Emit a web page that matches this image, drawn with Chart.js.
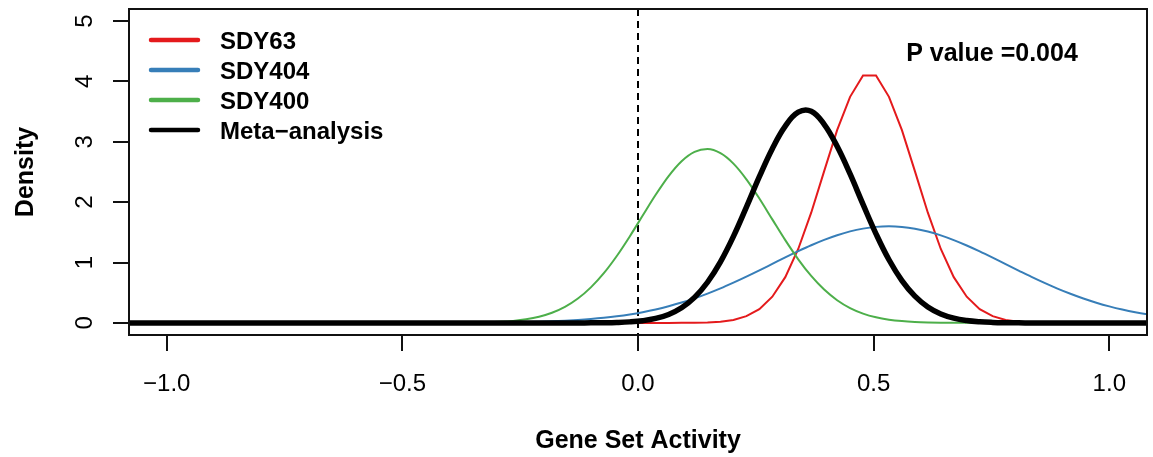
<!DOCTYPE html>
<html>
<head>
<meta charset="utf-8">
<title>Gene Set Activity density</title>
<script src="https://cdn.jsdelivr.net/npm/chart.js@4/dist/chart.umd.min.js"></script>
<style>
  html, body { margin: 0; padding: 0; background: #fff; }
  #wrap { width: 1153px; height: 457px; }
</style>
</head>
<body>
<div id="wrap"><canvas id="density-graph" width="1153" height="457"></canvas></div>
<script>
"use strict";
// values
const gridX = [-1.2, -0.5125, -0.485, -0.4575, -0.43, -0.4025, -0.375, -0.3475, -0.32, -0.2925, -0.265,
    -0.2375, -0.21, -0.1825, -0.155, -0.1275, -0.1, -0.0725, -0.045, -0.0175, 0.01, 0.0375, 0.065, 0.0925,
    0.12, 0.1475, 0.175, 0.2025, 0.23, 0.2575, 0.285, 0.3125, 0.34, 0.3675, 0.395, 0.4225, 0.45, 0.4775,
    0.505, 0.5325, 0.56, 0.5875, 0.615, 0.6425, 0.67, 0.6975, 0.725, 0.7525, 0.78, 0.8075, 0.835, 0.8625,
    0.89, 0.9175, 0.945, 0.9725, 1.0, 1.0275, 1.055, 1.0825, 1.11, 1.1375, 1.165, 1.1925, 1.22];
const sdy63 = [0, 0, 0, 0, 0, 0, 0, 0, 0, 0, 0, 0, 0, 0, 0, 0, 0, 0, 0, 0, 0, 0, 0,
    0.001, 0.003, 0.008, 0.021, 0.050, 0.112, 0.229, 0.434, 0.758, 1.225, 1.826, 2.514, 3.194, 3.745,
    4.10, 4.10, 3.745, 3.194, 2.514, 1.826, 1.225, 0.758, 0.434, 0.229, 0.112, 0.050, 0.021, 0.008,
    0.003, 0.001, 0, 0, 0, 0, 0, 0, 0, 0, 0, 0, 0, 0];
const sdy404 = [0, 0.0002, 0.0004, 0.0006, 0.0009, 0.0014, 0.0021, 0.0031, 0.0046, 0.0067, 0.0095, 0.0135,
    0.0189, 0.0261, 0.0356, 0.048, 0.0639, 0.084, 0.109, 0.140, 0.178, 0.223, 0.276, 0.337, 0.407, 0.486,
    0.572, 0.667, 0.767, 0.871, 0.978, 1.085, 1.188, 1.286, 1.375, 1.452, 1.516, 1.562, 1.591, 1.600,
    1.590, 1.561, 1.513, 1.450, 1.372, 1.283, 1.185, 1.081, 0.974, 0.868, 0.763, 0.663, 0.569, 0.483,
    0.404, 0.335, 0.274, 0.221, 0.176, 0.139, 0.108, 0.083, 0.063, 0.047, 0.035];
const sdy400 = [0, 0, 0.0001, 0.0002, 0.0005, 0.001, 0.0023, 0.0047, 0.0095, 0.0183, 0.0338, 0.0601,
    0.1028, 0.1688, 0.2665, 0.4042, 0.589, 0.824, 1.109, 1.433, 1.779, 2.122, 2.432, 2.678, 2.833, 2.880,
    2.812, 2.639, 2.379, 2.061, 1.715, 1.371, 1.054, 0.778, 0.552, 0.376, 0.246, 0.155, 0.0935, 0.0543,
    0.0303, 0.0162, 0.0084, 0.0041, 0.002, 0.0009, 0.0004, 0.0002, 0, 0, 0, 0, 0, 0, 0, 0, 0, 0, 0, 0,
    0, 0, 0, 0, 0];
const metaAnalysis = [0, 0, 0, 0, 0, 0, 0, 0, 0, 0, 0, 0, 0, 0, 0, 0,
    0.0013, 0.0033, 0.0078, 0.0175, 0.0372, 0.0745, 0.1408, 0.2512, 0.4236, 0.6738, 1.011, 1.433, 1.918,
    2.422, 2.887, 3.260, 3.490, 3.505, 3.290, 2.925, 2.467, 1.963, 1.476, 1.046, 0.7005, 0.443, 0.2642,
    0.1488, 0.0791, 0.0397, 0.0188, 0.0084, 0.0036, 0.0014, 0, 0, 0, 0, 0, 0, 0, 0, 0, 0, 0, 0, 0, 0, 0];
const seriesNames = ['SDY63', 'SDY404', 'SDY400', 'Meta\u2212analysis'];
const seriesColors = ['#E41A1C', '#377EB8', '#4DAF4A', '#000000'];
const xTicks = [-1, -0.5, 0, 0.5, 1];
const xTickLabels = ['\u22121.0', '\u22120.5', '0.0', '0.5', '1.0'];
const yTicks = [0, 1, 2, 3, 4, 5];
const yTickLabels = ['0', '1', '2', '3', '4', '5'];
const pValueText = 'P value =0.004';

const FONT = "'Liberation Sans', Arial, Helvetica, sans-serif";

function toPoints(ys) {
    return gridX.map((x, i) => ({ x: x, y: ys[i] }));
}

// R style box, axes, labels and legend
const rDecor = {
    id: 'rDecor',
    beforeDatasetsDraw(chart) {
        const ctx = chart.ctx;
        const area = chart.chartArea;
        const x0 = chart.scales.x.getPixelForValue(0);
        ctx.save();
        ctx.strokeStyle = '#000';
        ctx.lineWidth = 2;
        ctx.setLineDash([7, 5]);
        ctx.beginPath();
        ctx.moveTo(x0, area.top);
        ctx.lineTo(x0, area.bottom);
        ctx.stroke();
        ctx.restore();
    },
    afterDraw(chart) {
        const ctx = chart.ctx;
        const area = chart.chartArea;
        const xs = chart.scales.x;
        const ys = chart.scales.y;
        ctx.save();
        ctx.strokeStyle = '#111';
        ctx.fillStyle = '#000';
        ctx.lineWidth = 2;
        ctx.strokeRect(area.left, area.top, area.right - area.left, area.bottom - area.top);

        // x axis
        ctx.font = '24px ' + FONT;
        ctx.textAlign = 'center';
        ctx.textBaseline = 'alphabetic';
        ctx.beginPath();
        xTicks.forEach((v) => {
            const px = Math.round(xs.getPixelForValue(v));
            ctx.moveTo(px, area.bottom);
            ctx.lineTo(px, area.bottom + 16);
        });
        ctx.stroke();
        xTicks.forEach((v, i) => {
            ctx.fillText(xTickLabels[i], xs.getPixelForValue(v), 391);
        });

        // y axis, labels turned like R does
        ctx.beginPath();
        yTicks.forEach((v) => {
            const py = Math.round(ys.getPixelForValue(v));
            ctx.moveTo(area.left, py);
            ctx.lineTo(area.left - 16, py);
        });
        ctx.stroke();
        yTicks.forEach((v, i) => {
            ctx.save();
            ctx.translate(92, ys.getPixelForValue(v));
            ctx.rotate(-Math.PI / 2);
            ctx.fillText(yTickLabels[i], 0, 0);
            ctx.restore();
        });

        // axis titles
        ctx.font = 'bold 25px ' + FONT;
        ctx.fillText('Gene Set Activity', (area.left + area.right) / 2, 448);
        ctx.save();
        ctx.translate(33, (area.top + area.bottom) / 2);
        ctx.rotate(-Math.PI / 2);
        ctx.fillText('Density', 0, 0);
        ctx.restore();

        // p value
        ctx.fillText(pValueText, 992, 61);

        // legend
        ctx.font = 'bold 24px ' + FONT;
        ctx.textAlign = 'left';
        const legendY = [40, 70, 100, 130];
        seriesNames.forEach((name, i) => {
            ctx.strokeStyle = seriesColors[i];
            ctx.lineWidth = 4.5;
            ctx.lineCap = 'round';
            ctx.beginPath();
            ctx.moveTo(151, legendY[i]);
            ctx.lineTo(198, legendY[i]);
            ctx.stroke();
            ctx.fillText(name, 220, legendY[i] + 8.5);
        });
        ctx.restore();
    }
};

document.addEventListener('DOMContentLoaded', function () {
    const config = {
        type: 'line',
        data: {
            datasets: [
                {
                    label: seriesNames[0], data: toPoints(sdy63), borderColor: seriesColors[0],
                    borderWidth: 2, tension: 0, order: 3
                },
                {
                    label: seriesNames[1], data: toPoints(sdy404), borderColor: seriesColors[1],
                    borderWidth: 2, cubicInterpolationMode: 'monotone', order: 2
                },
                {
                    label: seriesNames[2], data: toPoints(sdy400), borderColor: seriesColors[2],
                    borderWidth: 2, cubicInterpolationMode: 'monotone', order: 1
                },
                {
                    label: seriesNames[3], data: toPoints(metaAnalysis), borderColor: seriesColors[3],
                    borderWidth: 5.5, tension: 0.4, order: 0
                }
            ]
        },
        options: {
            responsive: false,
            animation: false,
            devicePixelRatio: 1,
            layout: { padding: { left: 129, top: 9, right: 6, bottom: 122 } },
            elements: { point: { radius: 0, hoverRadius: 0 }, line: { fill: false } },
            plugins: { legend: { display: false }, tooltip: { enabled: false } },
            events: [],
            scales: {
                x: { type: 'linear', min: -1.08, max: 1.08, display: false },
                y: { type: 'linear', min: -0.2, max: 5.2, display: false }
            }
        },
        plugins: [rDecor]
    };
    const ctx = document.getElementById('density-graph').getContext('2d');
    new Chart(ctx, config);
});
</script>
</body>
</html>
